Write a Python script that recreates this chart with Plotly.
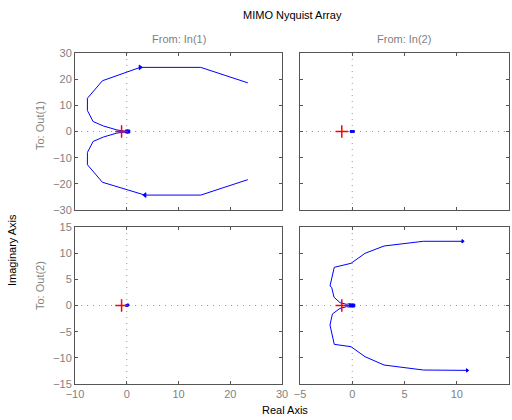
import plotly.graph_objects as go

# ---- data ----
# Out(1) <- In(1): upper and lower branches of the Nyquist curve
tl_up_x = [23.4, 14.3, 2.6, -4.7, -7.6, -7.6, -6.5, -4.5, -1.9, -0.3, 0.0]
tl_up_y = [18.6, 24.5, 24.5, 19.4, 12.7, 8.0, 3.8, 2.1, 0.6, 0.2, 0.0]
tl_lo_x = [0.0, -0.3, -1.9, -4.5, -6.5, -7.6, -7.6, -4.7, 3.5, 14.3, 23.4]
tl_lo_y = [0.0, -0.2, -0.6, -2.1, -3.8, -8.0, -12.7, -19.4, -24.3, -24.3, -18.4]
tl_arrow_x = [2.6, 3.5]
tl_arrow_y = [24.5, -24.3]

# Out(2) <- In(2)
br_up_x = [10.57, 6.8, 3.04, 1.22, -0.12, -1.72, -2.13, -1.97, -1.74, -1.17, -0.53, -0.3, -0.1, 0.0, -0.2, -0.4, -0.2, 0.0]
br_up_y = [12.27, 12.27, 11.37, 9.97, 8.06, 7.3, 3.73, 3.47, 1.56, 0.54, 0.22, 0.35, 0.25, 0.0, 0.2, 0.0, -0.2, 0.0]
br_lo_x = [0.0, -0.3, -0.53, -1.17, -1.9, -2.13, -1.72, -0.12, 1.22, 3.04, 6.8, 11.0]
br_lo_y = [0.0, -0.3, -0.22, -0.54, -1.62, -3.73, -7.42, -7.87, -9.78, -11.37, -12.33, -12.4]
br_arrow_x = [10.57, 11.0]
br_arrow_y = [12.27, -12.4]

# Near-zero responses for off-diagonal channels
tr_x, tr_y = [-0.1, 0.1], [0.0, 0.0]
bl_x, bl_y = [0.0, 0.2], [0.0, 0.1]

crit_x, crit_y = [-1], [0]

titles_cols = ["From: In(1)", "From: In(2)"]
titles_rows = ["To: Out(1)", "To: Out(2)"]

BLUE = "#0000ff"
RED = "#ff0000"
GRAY = "#7f7f7f"
FONT = "Liberation Sans, Arial, sans-serif"

fig = go.Figure()

def line(x, y, xa, ya):
    fig.add_trace(go.Scatter(x=x, y=y, mode="lines", line=dict(color=BLUE, width=1),
                             xaxis=xa, yaxis=ya, showlegend=False, hoverinfo="skip"))

def marks(x, y, xa, ya, sym, size=5, color=BLUE, w=1):
    fig.add_trace(go.Scatter(x=x, y=y, mode="markers",
                             marker=dict(symbol=sym, size=size, color=color,
                                         line=dict(color=color, width=w)),
                             xaxis=xa, yaxis=ya, showlegend=False, hoverinfo="skip"))

# top-left (x, y)
line(tl_up_x, tl_up_y, "x", "y")
line(tl_lo_x, tl_lo_y, "x", "y")
marks(tl_arrow_x[:1], tl_arrow_y[:1], "x", "y", "triangle-right", 4)
marks(tl_arrow_x[1:], tl_arrow_y[1:], "x", "y", "triangle-left", 4)
marks([0, 0.3], [0, 0], "x", "y", "square", 3)
# top-right (x2, y2)
marks(tr_x, tr_y, "x2", "y2", "square", 2)
# bottom-left (x3, y3)
marks(bl_x, bl_y, "x3", "y3", "square", 2)
# bottom-right (x4, y4)
line(br_up_x, br_up_y, "x4", "y4")
line(br_lo_x, br_lo_y, "x4", "y4")
marks(br_arrow_x, br_arrow_y, "x4", "y4", "triangle-right", 3)
marks([-0.1, 0.1], [0.0, 0.0], "x4", "y4", "square", 3)

for xa, ya in [("x", "y"), ("x2", "y2"), ("x3", "y3"), ("x4", "y4")]:
    fig.add_trace(go.Scatter(x=crit_x, y=crit_y, mode="markers",
                             marker=dict(symbol="cross-thin", size=9,
                                         line=dict(color=RED, width=1.5)),
                             xaxis=xa, yaxis=ya, showlegend=False, hoverinfo="skip"))

colL = [75 / 512, 282 / 512]
colR = [300 / 512, 509 / 512]
rowT = [1 - 210 / 420, 1 - 53 / 420]
rowB = [1 - 384 / 420, 1 - 227 / 420]

def ax(domain, rng, dtick, labels, anchor):
    return dict(domain=domain, range=rng, dtick=dtick, tick0=rng[0], showticklabels=labels,
                ticks="inside", ticklen=3, tickcolor="#555", mirror="ticks",
                showline=True, linecolor="#555", linewidth=1, showgrid=False, zeroline=False,
                automargin=False,
                tickfont=dict(family=FONT, size=11, color=GRAY), anchor=anchor, fixedrange=True)

fig.update_layout(
    width=512, height=420, margin=dict(l=0, r=0, t=0, b=0, autoexpand=False),
    paper_bgcolor="white", plot_bgcolor="white",
    xaxis=ax(colL, [-10, 30], 10, False, "y"),
    yaxis=ax(rowT, [-30, 30], 10, True, "x"),
    xaxis2=ax(colR, [-5, 15], 5, False, "y2"),
    yaxis2=ax(rowT, [-30, 30], 10, False, "x2"),
    xaxis3=ax(colL, [-10, 30], 10, True, "y3"),
    yaxis3=ax(rowB, [-15, 15], 5, True, "x3"),
    xaxis4=ax(colR, [-5, 15], 5, True, "y4"),
    yaxis4=ax(rowB, [-15, 15], 5, False, "x4"),
)

shapes = []
for xa, ya in [("x", "y"), ("x2", "y2"), ("x3", "y3"), ("x4", "y4")]:
    shapes.append(dict(type="line", xref=xa, yref=ya + " domain", x0=0, x1=0, y0=0, y1=1,
                       line=dict(color="#999", width=1, dash="1px,5px"), layer="below"))
    shapes.append(dict(type="line", xref=xa + " domain", yref=ya, x0=0, x1=1, y0=0, y1=0,
                       line=dict(color="#999", width=1, dash="1px,5px"), layer="below"))
fig.update_layout(shapes=shapes)

ann = [
    dict(text="MIMO Nyquist Array", x=292 / 512, y=1 - 15 / 420, font=dict(color="black", size=11)),
    dict(text=titles_cols[0], x=179 / 512, y=1 - 39 / 420, font=dict(color=GRAY, size=11)),
    dict(text=titles_cols[1], x=404 / 512, y=1 - 39 / 420, font=dict(color=GRAY, size=11)),
    dict(text=titles_rows[0], x=40 / 512, y=1 - 126 / 420, textangle=-90, font=dict(color=GRAY, size=11)),
    dict(text=titles_rows[1], x=40 / 512, y=1 - 286 / 420, textangle=-90, font=dict(color=GRAY, size=11)),
    dict(text="Imaginary Axis", x=12 / 512, y=1 - 250 / 420, textangle=-90, font=dict(color="black", size=11)),
    dict(text="Real Axis", x=285 / 512, y=1 - 410 / 420, font=dict(color="black", size=11)),
]
for a in ann:
    a.update(xref="paper", yref="paper", showarrow=False, xanchor="center", yanchor="middle")
    a["font"]["family"] = FONT
fig.update_layout(annotations=ann)

fig.write_html("out.html")
